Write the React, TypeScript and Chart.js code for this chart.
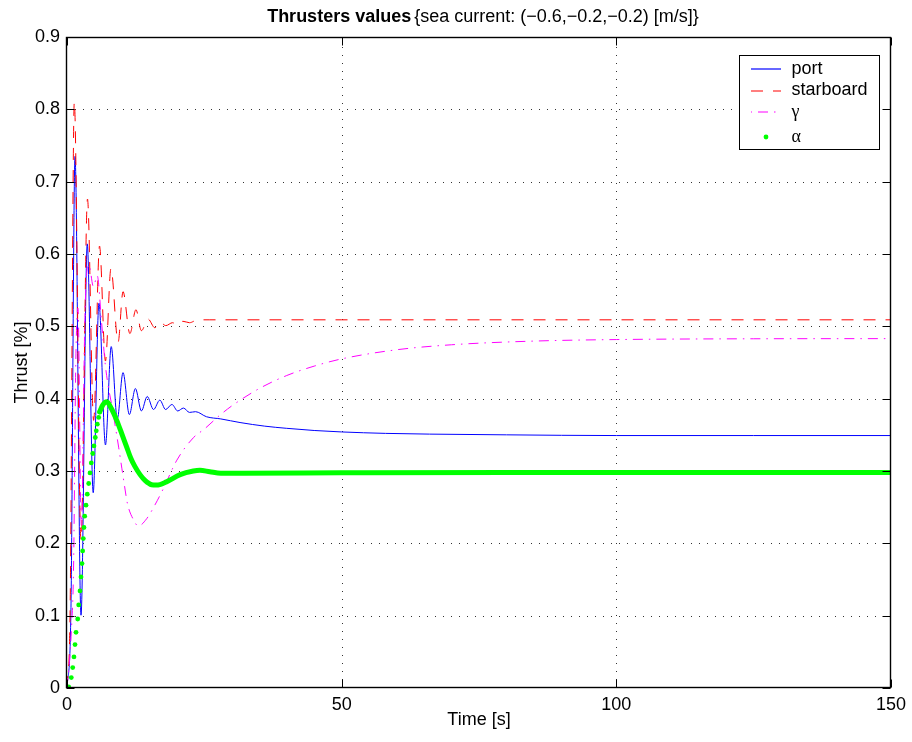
import React, { useEffect, useRef } from "react";
import { Chart, registerables } from "chart.js";

Chart.register(...registerables);

const FONT = "'Liberation Sans', Arial, Helvetica, sans-serif";
const SERIF = "'Liberation Serif', 'Times New Roman', serif";

const xTickValues = [0, 50, 100, 150];
const xTickLabels = ["0", "50", "100", "150"];
const yTickValues = [0, 0.1, 0.2, 0.3, 0.4, 0.5, 0.6, 0.7, 0.8, 0.9];
const yTickLabels = ["0", "0.1", "0.2", "0.3", "0.4", "0.5", "0.6", "0.7", "0.8", "0.9"];

const titleBold = "Thrusters values";
const titleRest = "{sea current: (\u22120.6,\u22120.2,\u22120.2) [m/s]}";
const xTitle = "Time [s]";
const yTitle = "Thrust [%]";
const legendLabels = ["port", "starboard", "\u03b3", "\u03b1"];

// port thruster (blue, solid)
const portT = [0, 0.7, 1.46, 2.55, 3.69, 4.77, 5.82, 7.0, 8.05, 9.15, 10.2, 11.35, 12.45, 13.55, 14.6, 15.75, 16.9, 17.95, 19.1, 20.15, 21.2, 22.3, 23.4, 25.4, 28, 31.5, 36, 40, 45, 50, 58, 66, 80, 100, 125, 150];
const portY = [0, 0.1, 0.735, 0.1006, 0.614, 0.27, 0.532, 0.336, 0.472, 0.372, 0.436, 0.378, 0.414, 0.383, 0.403, 0.385, 0.398, 0.385, 0.392, 0.383, 0.387, 0.381, 0.382, 0.375, 0.372, 0.367, 0.362, 0.359, 0.356, 0.354, 0.352, 0.351, 0.35, 0.349, 0.349, 0.349];

// starboard thruster (red, dashed)
const starT = [0, 0.55, 1.33, 2.55, 3.73, 4.85, 5.92, 7.0, 8.0, 9.3, 10.2, 11.45, 12.55, 13.55, 14.75, 16.0, 16.9, 18.0, 19.2, 20.2, 21.1, 22.3, 23.8, 26, 35, 50, 75, 100, 125, 150];
const starY = [0, 0.1, 0.8105, 0.204, 0.676, 0.37, 0.611, 0.452, 0.58, 0.478, 0.548, 0.49, 0.523, 0.494, 0.51, 0.498, 0.506, 0.501, 0.505, 0.502, 0.507, 0.505, 0.509, 0.509, 0.509, 0.509, 0.509, 0.509, 0.509, 0.509];

// gamma (magenta, dash-dot)
const gammaT = [0, 0.8, 1.2, 1.6, 2.0, 2.6, 3.3, 4.0, 4.8, 5.5, 6.3, 7.0, 8.4, 9.4, 10.0, 10.5, 11.0, 12.0, 13.0, 14.5, 16.0, 17.5, 20.0, 23.0, 25.0, 27.8, 30.0, 35.0, 40.0, 45.0, 50.0, 60.0, 70.0, 85.0, 100.0, 125.0, 150.0];
const gammaY = [0, 0.08, 0.17, 0.45, 0.525, 0.225, 0.525, 0.585, 0.555, 0.57, 0.505, 0.445, 0.38, 0.333, 0.303, 0.278, 0.255, 0.234, 0.224, 0.234, 0.253, 0.275, 0.315, 0.346, 0.358, 0.377, 0.39, 0.414, 0.432, 0.445, 0.455, 0.4676, 0.4745, 0.4796, 0.4817, 0.4828, 0.483];

// alpha (green dots) - separated samples during the rise
const alphaDotT = [0, 0.31, 0.78, 1.04, 1.27, 1.46, 1.64, 1.95, 2.13, 2.37, 2.55, 2.73, 2.85, 2.97, 3.09, 3.22, 3.46, 3.69, 3.95, 4.19, 4.42, 4.68, 4.91, 5.15, 5.33, 5.52, 5.77, 5.95];
const alphaDotY = [0, 0.0014, 0.0144, 0.0282, 0.0429, 0.06, 0.077, 0.0954, 0.1148, 0.1342, 0.1535, 0.172, 0.1895, 0.2066, 0.2219, 0.2375, 0.2527, 0.268, 0.2827, 0.2974, 0.3112, 0.3242, 0.3347, 0.3463, 0.3555, 0.3647, 0.374, 0.3817];
// alpha (green) - samples merge into a thick trace afterwards
const alphaLineT = [5.95, 6.5, 7.23, 8.1, 9.05, 10.0, 10.87, 11.6, 12.38, 13.3, 14.2, 15.4, 16.3, 18.1, 20.6, 23.0, 24.2, 26.0, 28.0, 32.0, 50.0, 80.0, 110.0, 150.0];
const alphaLineY = [0.3817, 0.391, 0.3956, 0.386, 0.37, 0.351, 0.333, 0.318, 0.306, 0.295, 0.287, 0.281, 0.2805, 0.285, 0.295, 0.3, 0.301, 0.299, 0.297, 0.297, 0.2975, 0.298, 0.298, 0.298];

const BLUE = "#0000ff";
const RED = "#ff0000";
const MAGENTA = "#ff00ff";
const GREEN = "#00ff00";
const RED_DASH = [12, 10];
const MAG_DASH = [10, 6, 1.5, 6];

const framePlugin = {
  id: "matlabFrame",
  beforeDatasetsDraw(chart: any) {
    const { ctx, chartArea: a, scales } = chart;
    const xs = scales.x;
    const ys = scales.y;
    ctx.save();
    ctx.strokeStyle = "#333";
    ctx.lineWidth = 1;
    ctx.setLineDash([1, 7]);
    yTickValues.forEach((v) => {
      if (v <= ys.min || v >= ys.max) return;
      const y = Math.round(ys.getPixelForValue(v)) + 0.5;
      ctx.beginPath();
      ctx.moveTo(a.left, y);
      ctx.lineTo(a.right, y);
      ctx.stroke();
    });
    xTickValues.forEach((v) => {
      if (v <= xs.min || v >= xs.max) return;
      const x = Math.round(xs.getPixelForValue(v)) + 0.5;
      ctx.beginPath();
      ctx.moveTo(x, a.bottom);
      ctx.lineTo(x, a.top);
      ctx.stroke();
    });
    ctx.restore();
  },
  afterDatasetsDraw(chart: any) {
    const { ctx, chartArea: a, scales } = chart;
    const xs = scales.x;
    const ys = scales.y;
    const tl = 8;
    ctx.save();
    ctx.setLineDash([]);
    ctx.strokeStyle = "#000";
    ctx.lineWidth = 1;
    const L = Math.round(a.left) - 0.5;
    const R = Math.round(a.right) - 0.5;
    const T = Math.round(a.top) + 0.5;
    const B = Math.round(a.bottom) - 0.5;
    ctx.beginPath();
    yTickValues.forEach((v) => {
      const y = Math.round(ys.getPixelForValue(v)) + 0.5;
      ctx.moveTo(L, y);
      ctx.lineTo(L + tl, y);
      ctx.moveTo(R, y);
      ctx.lineTo(R - tl, y);
    });
    xTickValues.forEach((v) => {
      const x = Math.round(xs.getPixelForValue(v)) + 0.5;
      ctx.moveTo(x, B);
      ctx.lineTo(x, B - tl);
      ctx.moveTo(x, T);
      ctx.lineTo(x, T + tl);
    });
    ctx.stroke();
    ctx.lineWidth = 1.4;
    ctx.strokeRect(L, T, R - L, B - T);
    ctx.restore();
  },
  afterDraw(chart: any) {
    const { ctx, chartArea: a } = chart;
    ctx.save();
    // title
    ctx.fillStyle = "#000";
    ctx.textBaseline = "alphabetic";
    ctx.textAlign = "left";
    ctx.font = `bold 18px ${FONT}`;
    const wb = ctx.measureText(titleBold).width;
    ctx.font = `18px ${FONT}`;
    const wn = ctx.measureText(titleRest).width;
    const gap = 3;
    const cx = (a.left + a.right) / 2 + 4;
    const sx = cx - (wb + gap + wn) / 2;
    const ty = a.top - 15;
    ctx.font = `bold 18px ${FONT}`;
    ctx.fillText(titleBold, sx, ty);
    ctx.font = `18px ${FONT}`;
    ctx.fillText(titleRest, sx + wb + gap, ty);

    // legend
    const bx = Math.round(a.right) - 151.5;
    const by = Math.round(a.top) + 18.5;
    const bw = 140;
    const bh = 94;
    ctx.fillStyle = "#fff";
    ctx.fillRect(bx, by, bw, bh);
    ctx.strokeStyle = "#000";
    ctx.lineWidth = 1;
    ctx.setLineDash([]);
    ctx.strokeRect(bx, by, bw, bh);
    const baselines = [18, 39, 61, 86];
    const lineOff = [4.5, 3.5, 4.5, 5];
    const x0 = bx + 11.5;
    const x1 = bx + 41.5;
    const tx = bx + 52;
    const styles = [
      { color: BLUE, dash: [] as number[], dot: false },
      { color: RED, dash: RED_DASH, dot: false },
      { color: MAGENTA, dash: MAG_DASH, dot: false },
      { color: GREEN, dash: [] as number[], dot: true },
    ];
    styles.forEach((s, i) => {
      const base = by + baselines[i];
      const ly = Math.round(base - lineOff[i]);
      if (s.dot) {
        ctx.fillStyle = s.color;
        ctx.beginPath();
        ctx.arc((x0 + x1) / 2, ly, 2.4, 0, Math.PI * 2);
        ctx.fill();
      } else {
        ctx.strokeStyle = s.color;
        ctx.lineWidth = 1.2;
        ctx.setLineDash(s.dash);
        ctx.lineDashOffset = i === 2 ? -7 : 0;
        ctx.beginPath();
        ctx.moveTo(x0, ly);
        ctx.lineTo(x1, ly);
        ctx.stroke();
        ctx.setLineDash([]);
      }
      ctx.fillStyle = "#000";
      ctx.font = i >= 2 ? `18px ${SERIF}` : `18px ${FONT}`;
      ctx.fillText(legendLabels[i], tx, base);
    });
    ctx.restore();
  },
};

const pts = (t: number[], y: number[]) => t.map((x, i) => ({ x, y: y[i] }));

export default function App() {
  const ref = useRef<HTMLCanvasElement>(null);
  useEffect(() => {
    const canvas = ref.current;
    if (!canvas) return;
    const tickFont = { family: FONT, size: 18 };
    const chart = new Chart(canvas, {
      type: "line",
      data: {
        datasets: [
          {
            label: legendLabels[3],
            data: pts(alphaDotT, alphaDotY),
            showLine: false,
            pointRadius: 2.4,
            pointBackgroundColor: GREEN,
            pointBorderWidth: 0,
            order: 0,
            clip: 0,
          } as any,
          {
            label: legendLabels[3],
            data: pts(alphaLineT, alphaLineY),
            borderColor: GREEN,
            borderWidth: 5,
            pointRadius: 0,
            cubicInterpolationMode: "monotone",
            borderCapStyle: "round",
            borderJoinStyle: "round",
            order: 0,
            clip: 0,
          },
          {
            label: legendLabels[2],
            data: pts(gammaT, gammaY),
            borderColor: MAGENTA,
            borderWidth: 1,
            borderDash: MAG_DASH,
            pointRadius: 0,
            cubicInterpolationMode: "monotone",
            order: 1,
            clip: 0,
          },
          {
            label: legendLabels[1],
            data: pts(starT, starY),
            borderColor: RED,
            borderWidth: 1,
            borderDash: RED_DASH,
            pointRadius: 0,
            cubicInterpolationMode: "monotone",
            order: 2,
            clip: 0,
          },
          {
            label: legendLabels[0],
            data: pts(portT, portY),
            borderColor: BLUE,
            borderWidth: 1,
            pointRadius: 0,
            cubicInterpolationMode: "monotone",
            order: 3,
            clip: 0,
          },
        ],
      },
      options: {
        responsive: false,
        animation: false,
        devicePixelRatio: 1,
        events: [],
        layout: { padding: { top: 37, right: 21, bottom: 0, left: 0 } },
        plugins: {
          legend: { display: false },
          tooltip: { enabled: false },
          title: { display: false },
        },
        scales: {
          x: {
            type: "linear",
            min: 0,
            max: 150,
            afterBuildTicks: (s: any) => {
              s.ticks = xTickValues.map((v) => ({ value: v }));
            },
            afterFit: (s: any) => {
              s.height = 54;
            },
            ticks: {
              callback: (_v: any, i: number) => xTickLabels[i],
              font: tickFont,
              color: "#000",
              padding: 6,
              maxRotation: 0,
              autoSkip: false,
            },
            grid: { display: false, drawTicks: false },
            border: { display: false },
            title: {
              display: true,
              text: xTitle,
              font: tickFont,
              color: "#000",
              padding: { top: 0, bottom: 11 },
            },
          },
          y: {
            type: "linear",
            min: 0,
            max: 0.9,
            afterBuildTicks: (s: any) => {
              s.ticks = yTickValues.map((v) => ({ value: v }));
            },
            afterFit: (s: any) => {
              s.width = 67;
            },
            ticks: {
              callback: (_v: any, i: number) => yTickLabels[i],
              font: tickFont,
              color: "#000",
              padding: 7,
              autoSkip: false,
            },
            grid: { display: false, drawTicks: false },
            border: { display: false },
            title: {
              display: true,
              text: yTitle,
              font: tickFont,
              color: "#000",
              padding: { top: 11, bottom: 0 },
            },
          },
        },
      } as any,
      plugins: [framePlugin],
    });
    return () => chart.destroy();
  }, []);
  return (
    <div style={{ position: "fixed", left: 0, top: 0, width: 912, height: 742, background: "#fff" }}>
      <canvas ref={ref} width={912} height={742} style={{ display: "block" }} />
    </div>
  );
}
